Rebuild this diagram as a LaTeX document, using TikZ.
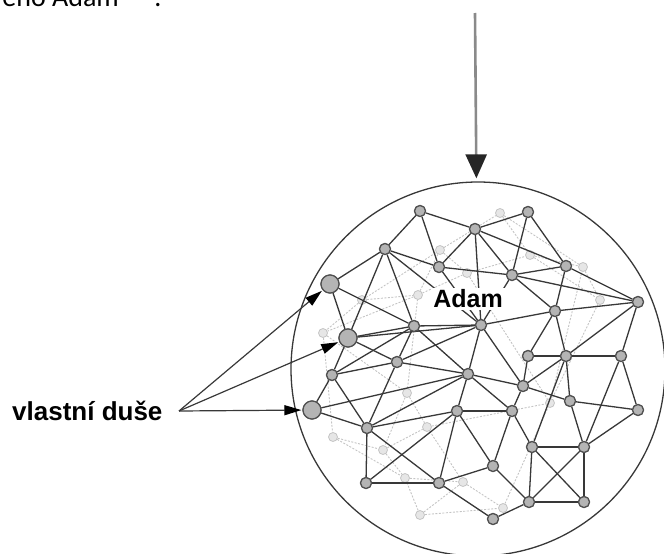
\documentclass[tikz,border=0pt]{standalone}
\usepackage{fontspec}
\usetikzlibrary{arrows.meta}
\newfontfamily\labfont{Liberation Sans}
\newfontfamily\topfont{Carlito}
\definecolor{edgec}{HTML}{383838}
\definecolor{nodeline}{HTML}{505050}
\definecolor{nodefill}{HTML}{B4B4B4}
\definecolor{faintc}{HTML}{C4C4C4}
\definecolor{faintfill}{HTML}{E6E6E6}
\definecolor{arrowline}{HTML}{8A8A8A}
\tikzset{
  pt/.style={circle,draw=nodeline,fill=nodefill,line width=1.2pt,minimum size=11pt,inner sep=0pt},
  bigpt/.style={pt,minimum size=18pt},
  fpt/.style={circle,draw=faintc,fill=faintfill,line width=0.8pt,minimum size=9pt,inner sep=0pt},
  edge/.style={draw=edgec,line width=1.3pt},
  fedge/.style={draw=faintc,line width=0.9pt,dash pattern=on 2pt off 1.5pt},
  soularrow/.style={draw=edgec,line width=1.2pt,-{Triangle[length=17pt,width=10pt,color=black]},shorten >=1pt},
  world/.style={circle,draw=edgec,line width=1.3pt,minimum size=374pt,inner sep=0pt},
  lab/.style={font=\labfont\bfseries\fontsize{26}{26}\selectfont,inner sep=0pt},
}
\begin{document}
\begin{tikzpicture}[x=1pt,y=-1pt]
\useasboundingbox (0,0) rectangle (664,554);
\begin{scope}
\clip (0,0) rectangle (664,554);
% partial text at the top
\node[anchor=base east,inner sep=0pt,font=\topfont\fontsize{28}{28}\selectfont] (toptext) at (119,6) {eno Adam};
\node[anchor=base,inner sep=0pt,font=\topfont\fontsize{28}{28}\selectfont] (topdot) at (158,6) {.};
% big circle
\node[world] (W) at (478,369) {};
% top arrow
\coordinate (Tstart) at (475,13);
\draw[draw=arrowline,line width=2.6pt,-{Triangle[length=24pt,width=21pt,color=black!85]},shorten >=3pt] (Tstart) -- (W);

% faint background nodes
\node[fpt] (f1) at (440,250) {};
\node[fpt] (f2) at (467,273) {};
\node[fpt] (f3) at (500,213) {};
\node[fpt] (f4) at (530,255) {};
\node[fpt] (f5) at (583,267) {};
\node[fpt] (f6) at (418,295) {};
\node[fpt] (f7) at (323,333) {};
\node[fpt] (f8) at (407,393) {};
\node[fpt] (f9) at (333,437) {};
\node[fpt] (f10) at (383,450) {};
\node[fpt] (f11) at (427,427) {};
\node[fpt] (f12) at (405,478) {};
\node[fpt] (f13) at (420,515) {};
\node[fpt] (f14) at (463,482) {};
\node[fpt] (f15) at (503,508) {};
\node[fpt] (f16) at (550,403) {};
\node[fpt] (f17) at (600,300) {};
\node[fpt] (f18) at (362,300) {};
\foreach \a/\b in {f1/f2,f1/f3,f3/f4,f4/f5,f2/f4,f1/f6,f6/f7,f6/f2,f7/f9,f8/f11,f8/f10,
  f9/f10,f10/f11,f10/f12,f11/f14,f12/f13,f12/f14,f13/f14,f14/f15,f11/f16,f15/f16,f5/f17,
  f17/f16,f2/f16,f18/f6,f18/f7,f18/f1,f8/f6,f3/f5,f4/f17,f7/f8,f9/f12,f13/f15,f16/f5}
  \draw[fedge] (\a) -- (\b);

% main nodes
\node[pt] (A1) at (420,211) {};
\node[pt] (A2) at (475,229) {};
\node[pt] (A3) at (528,212) {};
\node[pt] (B1) at (385,249) {};
\node[pt] (B2) at (439,267) {};
\node[pt] (B3) at (566,266) {};
\node[pt] (B4) at (512,275) {};
\node[bigpt] (S1) at (330,284) {};
\node[pt] (C1) at (638,302) {};
\node[pt] (C2) at (414,326) {};
\node[pt] (C3) at (481,325) {};
\node[pt] (C4) at (555,311) {};
\node[bigpt] (S2) at (348,338) {};
\node[pt] (D1) at (397,362) {};
\node[pt] (D2) at (528,356) {};
\node[pt] (D3) at (566,356) {};
\node[pt] (D4) at (621,356) {};
\node[pt] (E1) at (332,375) {};
\node[pt] (E2) at (468,374) {};
\node[pt] (E3) at (523,386) {};
\node[bigpt] (S3) at (312,410) {};
\node[pt] (F1) at (367,428) {};
\node[pt] (F2) at (457,411) {};
\node[pt] (F3) at (512,411) {};
\node[pt] (F4) at (570,401) {};
\node[pt] (F5) at (638,410) {};
\node[pt] (G1) at (532,447) {};
\node[pt] (G2) at (584,447) {};
\node[pt] (G3) at (493,466) {};
\node[pt] (H1) at (366,483) {};
\node[pt] (H2) at (439,483) {};
\node[pt] (H3) at (529,502) {};
\node[pt] (H4) at (584,502) {};
\node[pt] (H5) at (493,519) {};

% edges
\foreach \a/\b in {A1/A2,A2/A3,A1/B1,A1/B2,A2/B2,A2/B3,A2/B4,A3/B4,A3/B3,A2/C3,
  B1/S1,B1/B2,B1/C2,B1/S2,B1/C3,B2/B4,B2/C3,
  B3/B4,B3/C1,B3/C4,B4/C1,B4/C4,B4/C3,
  S1/S2,S1/C2,C1/C4,C1/D3,C1/D4,
  C2/C3,C2/D1,C2/E2,C2/S2,C3/C4,C3/E2,C3/E3,C3/D1,
  C4/D2,C4/D3,S2/D1,S2/E1,S2/C3,
  D1/E1,D1/F1,D1/E2,D2/D3,D2/E3,D3/D4,D3/E3,D3/F4,D3/G1,
  D4/F5,D4/G2,E1/S3,E1/F1,E1/C2,
  E2/E3,E2/F2,E2/F3,E2/F1,E3/F3,E3/F4,S3/F1,S3/E2,
  F1/F2,F1/H1,F1/H2,F2/F3,F2/G3,F2/H2,F2/H1,F3/G3,F3/G1,
  F4/F5,F4/G2,F5/G2,G1/G2,G1/H3,G1/H4,G2/H4,G2/H3,
  G3/H2,G3/H3,H1/H2,H2/H5,H3/H4,H3/H5}
  \draw[edge] (\a) -- (\b);
% redraw nodes on top of the edges
\foreach \n/\x/\y in {A1/420/211,A2/475/229,A3/528/212,B1/385/249,B2/439/267,B3/566/266,B4/512/275,
  C1/638/302,C2/414/326,C3/481/325,C4/555/311,D1/397/362,D2/528/356,D3/566/356,D4/621/356,
  E1/332/375,E2/468/374,E3/523/386,F1/367/428,F2/457/411,F3/512/411,F4/570/401,F5/638/410,
  G1/532/447,G2/584/447,G3/493/466,H1/366/483,H2/439/483,H3/529/502,H4/584/502,H5/493/519}
  \node[pt] (r\n) at (\x,\y) {};
\foreach \n/\x/\y in {S1/330/284,S2/348/338,S3/312/410}
  \node[bigpt] (r\n) at (\x,\y) {};

% Adam label
\node[lab,fill=white,inner sep=2pt,font=\labfont\bfseries\fontsize{25}{25}\selectfont] (adam) at (468,299) {Adam};

% vlastni duse
\node[lab,anchor=west] (vd) at (12,411) {vlastní duše};
\coordinate (P) at (179,411);
\draw[soularrow] (P) -- (rS1);
\draw[soularrow] (P) -- (rS2);
\draw[soularrow] (P) -- (rS3);
\end{scope}
\end{tikzpicture}
\end{document}
